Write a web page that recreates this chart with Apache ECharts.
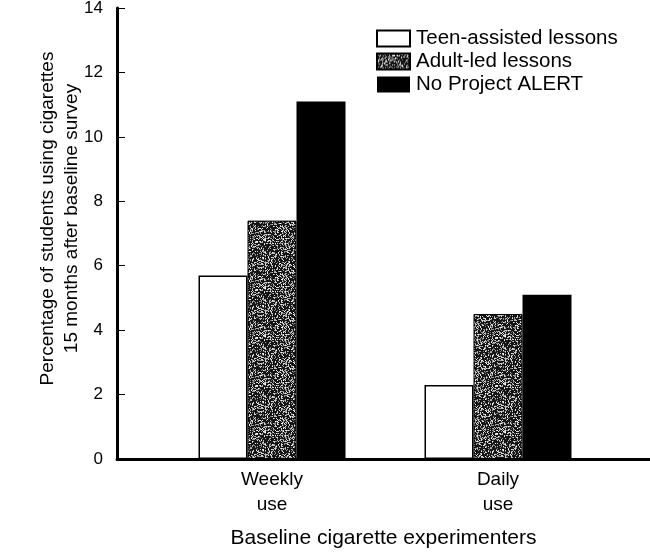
<!DOCTYPE html>
<html>
<head>
<meta charset="utf-8">
<script src="https://cdn.jsdelivr.net/npm/echarts@6/dist/echarts.min.js"></script>
<style>
  html, body { margin: 0; padding: 0; background: #fff; }
  #chart { width: 650px; height: 554px; }
</style>
</head>
<body>
<div id="chart"></div>
<script>
const categories = ['Weekly\nuse', 'Daily\nuse'];
const seriesNames = ['Teen-assisted lessons', 'Adult-led lessons', 'No Project ALERT'];
const teenAssisted = [5.7, 2.3];
const adultLed = [7.4, 4.5];
const noProgram = [11.1, 5.1];
const yTicks = [0, 2, 4, 6, 8, 10, 12, 14];

const FONT = '"Liberation Sans", Arial, sans-serif';

// speckled texture for the adult-led bars (deterministic, purely cosmetic)
function speckle() {
  const c = document.createElement('canvas');
  c.width = 48; c.height = 48;
  const ctx = c.getContext('2d');
  ctx.fillStyle = '#151515';
  ctx.fillRect(0, 0, 48, 48);
  let s = 12345;
  const rnd = () => { s = (s * 1103515245 + 12345) % 2147483648; return s / 2147483648; };
  for (let i = 0; i < 1100; i++) {
    const g = 110 + Math.floor(rnd() * 145);
    ctx.fillStyle = `rgb(${g},${g},${g})`;
    ctx.fillRect(Math.floor(rnd() * 48), Math.floor(rnd() * 48), 1, 1);
  }
  return c;
}

const chart = echarts.init(document.getElementById('chart'));

chart.setOption({
  animation: false,
  backgroundColor: '#fff',
  textStyle: { fontFamily: FONT, color: '#000' },
  legend: {
    left: 371,
    top: 22,
    orient: 'vertical',
    icon: 'rect',
    itemWidth: 33,
    itemHeight: 16,
    itemGap: 0,
    textStyle: { fontFamily: FONT, fontSize: 20.5, color: '#000', padding: [0, 0, 0, 1], lineHeight: 23 },
    data: seriesNames
  },
  grid: [
    { left: 117, right: 0, top: 8, bottom: 95, outerBoundsMode: 'none' },
    { left: 159, right: 39, top: 8, bottom: 95, outerBoundsMode: 'none' }
  ],
  xAxis: [
    {
      gridIndex: 0,
      type: 'value',
      min: 0,
      max: 1,
      axisLine: { show: true, lineStyle: { color: '#000', width: 3 } },
      axisTick: { show: false },
      axisLabel: { show: false },
      splitLine: { show: false },
      name: 'Baseline cigarette experimenters',
      nameLocation: 'middle',
      nameGap: 69,
      nameMoveOverlap: false,
      nameTextStyle: { fontFamily: FONT, fontSize: 21, color: '#000' }
    },
    {
      gridIndex: 1,
      type: 'category',
      data: categories,
      axisLine: { show: false },
      axisTick: { show: false },
      axisLabel: { fontFamily: FONT, fontSize: 19, color: '#000', lineHeight: 25, margin: 8 }
    }
  ],
  yAxis: [
    {
      gridIndex: 0,
      type: 'value',
      min: yTicks[0],
      max: yTicks[yTicks.length - 1],
      interval: 2,
      axisLine: { show: true, lineStyle: { color: '#000', width: 3 } },
      axisTick: { show: true, inside: true, length: 8, lineStyle: { color: '#000', width: 1 } },
      axisLabel: { fontFamily: FONT, fontSize: 17, color: '#000', margin: 14 },
      splitLine: { show: false },
      name: 'Percentage of students using cigarettes\n15 months after baseline survey',
      nameLocation: 'middle',
      nameGap: 33,
      nameMoveOverlap: false,
      nameRotate: 90,
      nameTextStyle: { fontFamily: FONT, fontSize: 19, color: '#000', lineHeight: 24, padding: [0, 0, 0, 30] }
    },
    {
      gridIndex: 1,
      type: 'value',
      min: yTicks[0],
      max: yTicks[yTicks.length - 1],
      show: false
    }
  ],
  series: [
    {
      name: seriesNames[0],
      type: 'bar',
      xAxisIndex: 1,
      yAxisIndex: 1,
      data: teenAssisted,
      barWidth: 49,
      barGap: '0%',
      itemStyle: { color: '#fff', borderColor: '#000', borderWidth: 1.5 }
    },
    {
      name: seriesNames[1],
      type: 'bar',
      xAxisIndex: 1,
      yAxisIndex: 1,
      data: adultLed,
      barWidth: 49,
      barGap: '0%',
      itemStyle: { color: { image: speckle(), repeat: 'repeat' }, borderColor: '#000', borderWidth: 1 }
    },
    {
      name: seriesNames[2],
      type: 'bar',
      xAxisIndex: 1,
      yAxisIndex: 1,
      data: noProgram,
      barWidth: 49,
      barGap: '0%',
      itemStyle: { color: '#000' }
    }
  ]
});
</script>
</body>
</html>
